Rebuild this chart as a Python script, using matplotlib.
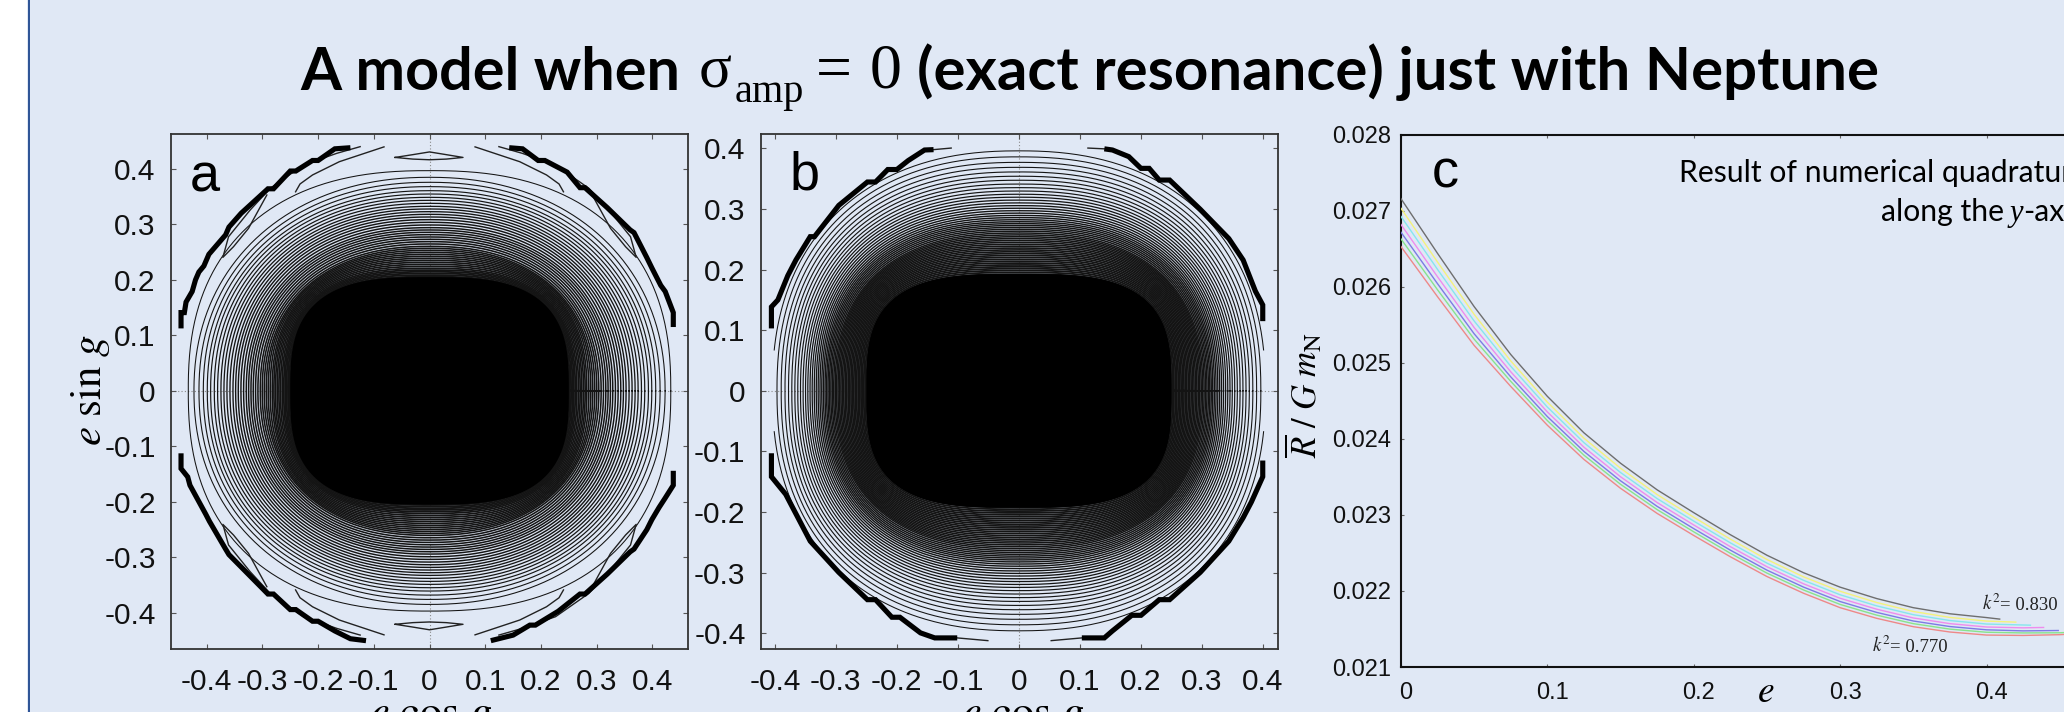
import numpy as np
import matplotlib
matplotlib.use('Agg')
import matplotlib.pyplot as plt
from matplotlib.patches import Rectangle
from matplotlib.transforms import ScaledTranslation

plt.rcParams['mathtext.fontset'] = 'stix'
plt.rcParams['axes.unicode_minus'] = False

W, H = 2064, 712
BG = '#E0E8F5'
SANS = 'Liberation Sans'
SERIF = 'Liberation Serif'
TITLE = 'Lato'

# ---------- panel tick labels ----------
ticks_ab = [-0.4, -0.3, -0.2, -0.1, 0, 0.1, 0.2, 0.3, 0.4]
tick_labels_ab = ['-0.4', '-0.3', '-0.2', '-0.1', '0', '0.1', '0.2', '0.3', '0.4']
ticks_cx = [0, 0.1, 0.2, 0.3, 0.4, 0.5]
tick_labels_cx = ['0', '0.1', '0.2', '0.3', '0.4', '0.5']
ticks_cy = [0.021, 0.022, 0.023, 0.024, 0.025, 0.026, 0.027, 0.028]
tick_labels_cy = ['0.021', '0.022', '0.023', '0.024', '0.025', '0.026', '0.027', '0.028']

# ---------- panel a: closed contours (semi-axes read along the axes) ----------
a_rx = [.433, .4228, .4138, .406, .3989, .3929, .3863, .3804, .3744, .369, .3636, .3582,
        .3528, .348, .3433, .3385, .3337, .3289, .3247, .3205, .3164, .3122, .308, .3038,
        .3002, .2966, .293, .2895, .2859, .2823, .2793, .2763, .2733, .2703, .2673, .2643,
        .2615, .259, .2565, .254, .2515, .249, .2465, .244]
a_ry = [.3967, .3847, .3757, .3679, .3606, .3546, .3486, .3432, .3378, .3324, .3276, .3228,
        .318, .3132, .3084, .3036, .2988, .294, .2898, .2856, .2814, .2772, .273, .2688,
        .2646, .2603, .2567, .2531, .2495, .2459, .2423, .2387, .2351, .2315, .2279, .2243,
        .2207, .2175, .2145, .2115, .2085, .2055, .2025, .1995]

# panel a: open contours and islands
a_arc_x = [-.2404, -.2324, -.21, -.1619, -.0817]
a_arc_y = [.3586, .3727, .3889, .4128, .4395]
a_sliver_x = [-.1245, -.1664, -.2262, -.286, -.3219, -.3607, -.3709, -.3518, -.3249, -.292]
a_sliver_y = [.4399, .4279, .4068, .3648, .3258, .2777, .2405, .2597, .2927, .3528]
a_lens_x = [-.0617, -.03, 0, .03, .0601, .03, 0, -.03, -.0617]
a_lens_y = [.4205, .4255, .4304, .4255, .4205, .4175, .4163, .4175, .4205]

a_thick_ul_x = [-.446, -.446, -.44, -.437, -.426, -.42, -.414, -.405, -.396, -.366, -.36, -.338, -.29, -.28, -.25, -.24, -.21, -.2, -.17, -.142]
a_thick_ul_y = [.1125, .141, .141, .16, .179, .2, .214, .225, .246, .281, .295, .32, .364, .364, .396, .396, .415, .415, .436, .438]
a_thick_ur_x = [.4375, .4375, .423, .415, .399, .39, .367, .36, .319, .279, .27, .247, .207, .195, .167, .143]
a_thick_ur_y = [.115, .141, .179, .19, .2215, .24, .285, .29, .33, .366, .366, .394, .415, .415, .436, .438]
a_thick_ll_x = [-.446, -.446, -.434, -.43, -.402, -.395, -.366, -.36, -.29, -.28, -.25, -.24, -.21, -.2, -.17, -.142, -.114]
a_thick_ll_y = [-.1125, -.14, -.155, -.17, -.2215, -.235, -.285, -.295, -.366, -.366, -.394, -.394, -.415, -.415, -.4325, -.4465, -.45]
a_thick_lr_x = [.4375, .4375, .423, .412, .399, .39, .367, .36, .319, .279, .27, .231, .19, .18, .15, .11]
a_thick_lr_y = [-.144, -.17, -.193, -.21, -.232, -.25, -.285, -.29, -.33, -.366, -.366, -.397, -.422, -.422, -.44, -.45]

# ---------- panel b ----------
b_ry = [.396, .3861, .377, .3688, .3612, .3541, .3475, .3412, .3353, .3297, .3244, .3195,
        .3147, .3101, .3056, .3013, .2972, .2932, .2894, .2858, .2823, .279, .2759, .2728,
        .2697, .2666, .2635, .2604, .2573, .2542, .2511, .248, .2449, .2418, .2387, .2356,
        .2325, .2294, .2263, .2232, .2201, .217, .2139, .2108, .2077, .2046, .2015, .1984,
        .1953, .1922, .1891]

b_thick_ul_x = [-.4056, -.4056, -.395, -.3788, -.3655, -.342, -.335, -.2952, -.2483, -.235, -.2149, -.2, -.1814, -.1546, -.1399]
b_thick_ul_y = [.103, .1385, .15, .19, .2158, .2544, .2544, .306, .3446, .3446, .3652, .3652, .38, .3974, .398]
b_thin_ul_x = [-.1399, -.111]
b_thin_ul_y = [.398, .4006]
b_thick_ur_x = [.3996, .3996, .3876, .3675, .344, .2972, .247, .23, .2135, .2, .18, .1533, .14]
b_thick_ur_y = [.115, .1417, .1643, .2158, .2512, .2995, .3478, .3478, .3671, .3671, .3865, .3974, .3993]
b_thin_ur_x = [.14, .1131]
b_thin_ur_y = [.3993, .4006]
b_thick_ll_x = [-.4056, -.4056, -.3822, -.3621, -.342, -.2952, -.2483, -.235, -.2082, -.195, -.1613, -.1379, -.1011]
b_thick_ll_y = [-.103, -.1417, -.1707, -.2093, -.248, -.2995, -.3446, -.3446, -.3736, -.3736, -.3994, -.4077, -.4077]
b_thin_ll_x = [-.1011, -.0509]
b_thin_ll_y = [-.4077, -.4122]
b_thick_lr_x = [.3996, .3996, .3809, .3675, .344, .2972, .247, .23, .2001, .185, .1533, .14, .1031]
b_thick_lr_y = [-.115, -.1417, -.1836, -.2093, -.248, -.2995, -.3446, -.3446, -.3704, -.3704, -.3961, -.4077, -.4077]
b_thin_lr_x = [.1031, .0529]
b_thin_lr_y = [-.4077, -.4122]

# ---------- panel c: seven curves, k^2 = 0.83 ... 0.77 ----------
e_grid = [0, .025, .05, .075, .1, .125, .15, .175, .2, .225, .25, .275, .3, .325, .35, .375, .4]
e_k830 = e_grid + [.409]
e_k820 = e_grid + [.42]
e_k810 = e_grid + [.43]
e_k800 = e_grid + [.425, .439]
e_k790 = e_grid + [.425, .449]
e_k780 = e_grid + [.425, .45, .475]
e_k770 = e_grid + [.425, .45, .475]
R_k830 = [.027160, .026440, .025740, .025110, .024560, .024080, .023680, .023330, .023030,
          .022740, .022470, .022240, .022050, .021900, .021780, .021700, .021650, .021630]
R_k820 = [.027034, .026326, .025638, .025026, .024484, .024010, .023614, .023268, .022970,
          .022682, .022414, .022186, .021996, .021848, .021730, .021652, .021604, .021590]
R_k810 = [.026927, .026229, .025551, .024955, .024419, .023951, .023558, .023215, .022919,
          .022633, .022366, .022140, .021950, .021804, .021688, .021611, .021565, .021550]
R_k800 = [.026820, .026132, .025465, .024883, .024355, .023891, .023502, .023163, .022868,
          .022583, .022319, .022094, .021904, .021760, .021645, .021570, .021526, .021515, .021520]
R_k790 = [.026719, .026041, .025383, .024816, .024294, .023835, .023449, .023113, .022820,
          .022537, .022274, .022051, .021861, .021718, .021605, .021532, .021489, .021475, .021480]
R_k780 = [.026631, .025961, .025312, .024757, .024241, .023786, .023403, .023070, .022778,
          .022496, .022235, .022013, .021823, .021682, .021570, .021498, .021457, .021448, .021450, .021470]
R_k770 = [.026530, .025870, .025230, .024690, .024180, .023730, .023350, .023020, .022730,
          .022450, .022190, .021970, .021780, .021640, .021530, .021460, .021420, .021415, .021425, .021450]
curves = [(e_k830, R_k830, '#6e6e6e'), (e_k820, R_k820, '#f4f27c'), (e_k810, R_k810, '#86e6ee'),
          (e_k800, R_k800, '#ee8cee'), (e_k790, R_k790, '#7c7ce4'), (e_k780, R_k780, '#88e48c'),
          (e_k770, R_k770, '#ee8888')]


def px_axes(fig, left, right, top, bottom):
    return fig.add_axes([left / W, 1 - bottom / H, (right - left) / W, (bottom - top) / H], facecolor='none')


def ring(ax, rx, ry, n, lw=0.75, color='#141414', xcut=None):
    t = np.linspace(0, 2 * np.pi, 721)
    c, s = np.cos(t), np.sin(t)
    x = rx * np.sign(c) * np.abs(c) ** (2 / n)
    y = ry * np.sign(s) * np.abs(s) ** (2 / n)
    if xcut is not None:
        x = np.where(np.abs(x) > xcut, np.nan, x)
    ax.plot(x, y, color=color, lw=lw, zorder=3)


def core(ax, rx, ry, n):
    t = np.linspace(0, 2 * np.pi, 721)
    c, s = np.cos(t), np.sin(t)
    ax.fill(rx * np.sign(c) * np.abs(c) ** (2 / n), ry * np.sign(s) * np.abs(s) ** (2 / n),
            color='black', lw=0, zorder=4)


def style_ab(ax, xlim, ylim):
    ax.set_xlim(*xlim)
    ax.set_ylim(*ylim)
    ax.set_xticks(ticks_ab, tick_labels_ab)
    ax.set_yticks(ticks_ab, tick_labels_ab)
    ax.tick_params(direction='in', top=True, right=True, length=3.5, width=0.8, color='#555555',
                   labelsize=21.5, labelcolor='#111111')
    ax.tick_params(axis='x', pad=14)
    ax.tick_params(axis='y', pad=11)
    for lab in ax.get_xticklabels() + ax.get_yticklabels():
        lab.set_family(SANS)
    for sp in ax.spines.values():
        sp.set_linewidth(1.3)
        sp.set_color('#333333')
    ax.axhline(0, color='#8a8a8a', lw=0.8, ls=(0, (1, 2)), zorder=1)
    ax.axvline(0, color='#8a8a8a', lw=0.8, ls=(0, (1, 2)), zorder=1)


fig = plt.figure(figsize=(W / 100, H / 100), dpi=100, facecolor=BG)
fig.add_artist(Rectangle((0, 0), 27 / W, 1, transform=fig.transFigure, color='white', lw=0))
fig.add_artist(Rectangle((28 / W, 0), 2.2 / W, 1, transform=fig.transFigure, color='#2F5597', lw=0))


def ptext(x, y, s, **kw):
    return fig.text(x / W, 1 - y / H, s, **kw)


# ---------- title ----------
ptext(300, 90, 'A model when', family=TITLE, weight='bold', fontsize=42.7, color='black', va='baseline')
ptext(699, 88, 'σ', family=SERIF, fontsize=44, color='black', va='baseline')
ptext(735, 102, 'amp', family=SERIF, fontsize=29, color='black', va='baseline')
ptext(816, 88, '=', family=SERIF, fontsize=46, color='black', va='baseline')
ptext(870, 88, '0', family=SERIF, fontsize=46, color='black', va='baseline')
ptext(917, 90, '(exact resonance) just with Neptune', family=TITLE, weight='bold', fontsize=43.2,
      color='black', va='baseline')

# ---------- panel a ----------
ax = px_axes(fig, 171, 687.5, 134, 649)
style_ab(ax, (-.464, .463), (-.465, .4627))
idx = np.arange(len(a_rx)) / (len(a_rx) - 1)
n_a = np.interp(idx, [0, .6, 1], [2.15, 2.3, 3.0])
n_a[0] = 2.4
lw_a = np.interp(idx, [0, .12, .35, .8, 1], [.75, .85, 1.05, 1.3, 1.5])
for rx, ry, n, lw in zip(a_rx, a_ry, n_a, lw_a):
    ring(ax, rx, ry, n, lw=lw)
core(ax, .25, .205, 3.0)
for sx, sy in [(1, 1), (-1, 1), (1, -1), (-1, -1)]:
    ax.plot(sx * np.array(a_arc_x), sy * np.array(a_arc_y), color='#222222', lw=1.0, zorder=3)
    ax.plot(sx * np.array(a_sliver_x), sy * np.array(a_sliver_y), color='#222222', lw=1.0, zorder=3)
for sy in (1, -1):
    ax.plot(a_lens_x, sy * np.array(a_lens_y), color='#222222', lw=1.0, zorder=3)
for tx, ty in [(a_thick_ul_x, a_thick_ul_y), (a_thick_ur_x, a_thick_ur_y),
               (a_thick_ll_x, a_thick_ll_y), (a_thick_lr_x, a_thick_lr_y)]:
    ax.plot(tx, ty, color='black', lw=3.7, solid_joinstyle='miter', solid_capstyle='butt', zorder=5)
ptext(190, 192, 'a', family=SANS, fontsize=39, color='black', va='baseline')
ptext(90, 390, r'$e\ \mathrm{sin}\ g$', fontsize=31, rotation=90, ha='center', va='center', color='black')
ptext(431, 726, r'$e\ \mathrm{cos}\ g$', fontsize=32, ha='center', va='baseline', color='black')

# ---------- panel b ----------
ax = px_axes(fig, 760.8, 1278, 134, 649)
style_ab(ax, (-.423, .4246), (-.426, .4238))
b_rx = np.interp(b_ry, [.1891, .396], [.247, .404])
n_b = np.interp(b_ry, [.1891, .26, .396], [3.2, 2.5, 2.3])
lw_b = np.interp(b_ry, [.1891, .25, .33, .396], [1.4, 1.2, .85, .75])
for rx, ry, n, lw in zip(b_rx, b_ry, n_b, lw_b):
    ring(ax, rx, ry, n, lw=lw, xcut=.401)
core(ax, .25, .193, 3.2)
for tx, ty in [(b_thick_ul_x, b_thick_ul_y), (b_thick_ur_x, b_thick_ur_y),
               (b_thick_ll_x, b_thick_ll_y), (b_thick_lr_x, b_thick_lr_y)]:
    ax.plot(tx, ty, color='black', lw=3.7, solid_joinstyle='miter', solid_capstyle='butt', zorder=5)
for tx, ty in [(b_thin_ul_x, b_thin_ul_y), (b_thin_ur_x, b_thin_ur_y),
               (b_thin_ll_x, b_thin_ll_y), (b_thin_lr_x, b_thin_lr_y)]:
    ax.plot(tx, ty, color='#222222', lw=1.0, zorder=3)
ptext(790, 190, 'b', family=SANS, fontsize=39, color='black', va='baseline')
ptext(1023, 726, r'$e\ \mathrm{cos}\ g$', fontsize=32, ha='center', va='baseline', color='black')

# ---------- panel c ----------
ax = px_axes(fig, 1400.9, 1400.9 + 732, 134.7, 667)
ax.set_xlim(0, .5)
ax.set_ylim(.021, .028)
ax.set_xticks(ticks_cx, tick_labels_cx)
ax.set_yticks(ticks_cy, tick_labels_cy)
ax.tick_params(direction='in', top=True, right=True, length=2.5, width=0.8, color='#666666',
               labelsize=17, labelcolor='#111111')
ax.tick_params(axis='x', pad=11)
ax.tick_params(axis='y', pad=7)
shift = ScaledTranslation(5 / 100, 0, fig.dpi_scale_trans)
for lab in ax.get_xticklabels():
    lab.set_family(SANS)
    lab.set_transform(lab.get_transform() + shift)
for lab in ax.get_yticklabels():
    lab.set_family(SANS)
for sp in ax.spines.values():
    sp.set_linewidth(1.5)
    sp.set_color('#111111')
for ex, vals, col in curves:
    ax.plot(ex, vals, color=col, lw=1.0, zorder=3)
ptext(1432, 188, 'c', family=SANS, fontsize=39, color='black', va='baseline')
ptext(1679, 182, 'Result of numerical quadrature', family=TITLE, fontsize=21.7, color='black', va='baseline')
ptext(1881, 221, 'along the', family=TITLE, fontsize=21.7, color='black', va='baseline')
ptext(2010, 221, 'y', family=SERIF, style='italic', fontsize=22, color='black', va='baseline')
ptext(2023, 221, '-axis', family=TITLE, fontsize=21.7, color='black', va='baseline')
ptext(1982, 610, r'$k^2$', fontsize=13.5, color='#222222', va='baseline')
ptext(2000, 610, '= 0.830', family=SERIF, fontsize=13.5, color='#222222', va='baseline')
ptext(1872, 652, r'$k^2$', fontsize=13.5, color='#222222', va='baseline')
ptext(1890, 652, '= 0.770', family=SERIF, fontsize=13.5, color='#222222', va='baseline')
ptext(1766, 702, r'$e$', fontsize=27, ha='center', va='baseline', color='black')
ptext(1304, 395, r'$\overline{R}\ /\ G\ m_{\mathrm{N}}$', fontsize=25, rotation=90, ha='center', va='center', color='black')

fig.savefig('out.png', dpi=100, facecolor=fig.get_facecolor())
